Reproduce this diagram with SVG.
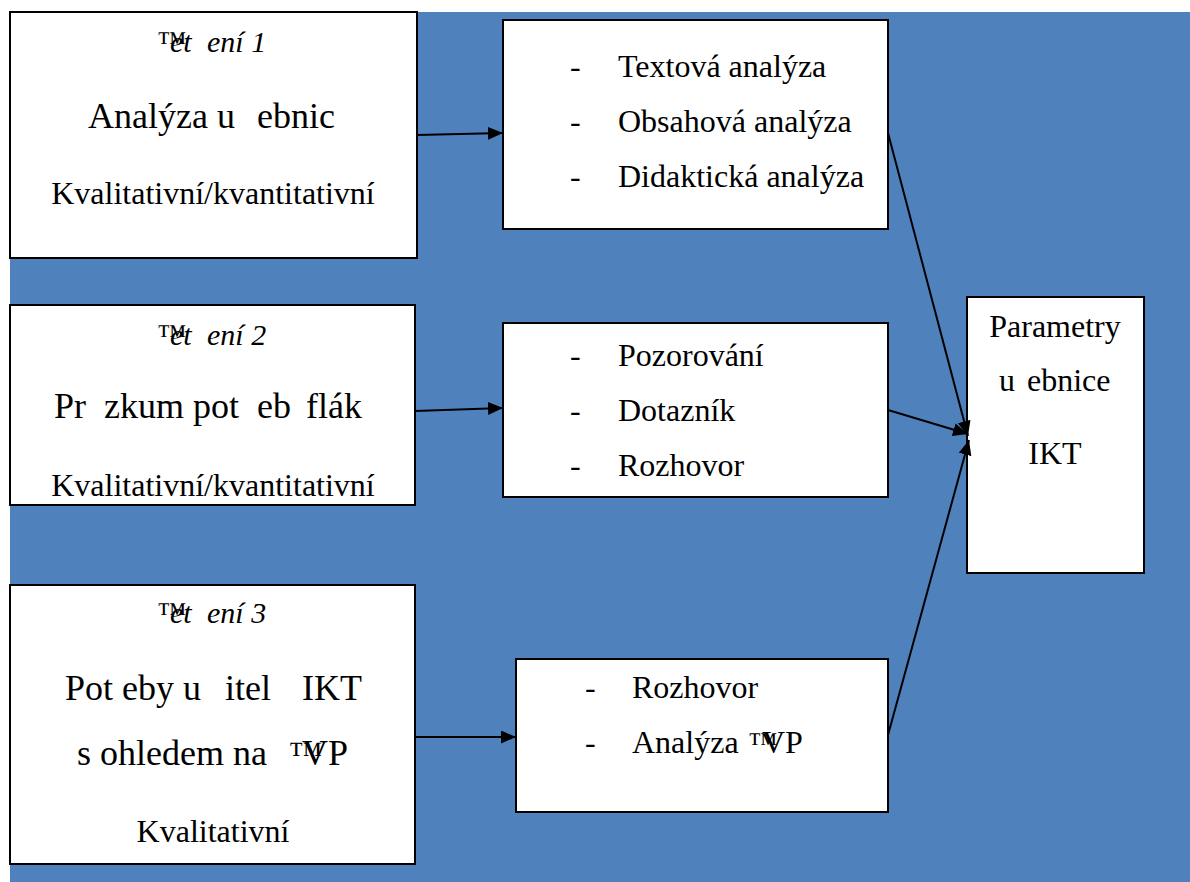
<svg xmlns="http://www.w3.org/2000/svg" width="1190" height="882" viewBox="0 0 1190 882">
  <style>
    .box { fill: #ffffff; stroke: #000000; stroke-width: 2; }
    text { font-family: "Liberation Serif", "Times New Roman", serif; fill: #000000; }
    .s32 { font-size: 32px; }
    .s36 { font-size: 36px; }
    .it { font-size: 30px; font-style: italic; }
    .tm { font-style: normal; }
    .c { text-anchor: middle; }
    .edge { stroke: #000000; stroke-width: 2; fill: none; marker-end: url(#arrow); }
  </style>
  <defs>
    <marker id="arrow" markerUnits="userSpaceOnUse" markerWidth="16" markerHeight="14" refX="15" refY="6.5" orient="auto">
      <path d="M0,0 L15,6.5 L0,13 z" fill="#000000"/>
    </marker>
  </defs>

  <!-- background panel -->
  <rect x="10" y="12" width="1180" height="870" fill="#4F81BD"/>

  <!-- stage 1 -->
  <g id="stage1">
    <rect class="box" x="10" y="12" width="407" height="246"/>
    <text y="52"><tspan class="tm" x="157" font-size="30">™</tspan><tspan class="it" x="170">et</tspan><tspan class="it" x="207">ení 1</tspan></text>
    <text class="s36" y="128"><tspan x="88">Analýza u</tspan><tspan x="257">ebnic</tspan></text>
    <text class="s32 c" x="213" y="204">Kvalitativní/kvantitativní</text>
  </g>

  <!-- stage 2 -->
  <g id="stage2">
    <rect class="box" x="10" y="305" width="405" height="200"/>
    <text y="345"><tspan class="tm" x="157" font-size="30">™</tspan><tspan class="it" x="170">et</tspan><tspan class="it" x="207">ení 2</tspan></text>
    <text class="s36" y="418"><tspan x="54">Pr</tspan><tspan x="104">zkum pot</tspan><tspan x="257">eb</tspan><tspan x="306">flák</tspan></text>
    <text class="s32 c" x="213" y="496">Kvalitativní/kvantitativní</text>
  </g>

  <!-- stage 3 -->
  <g id="stage3">
    <rect class="box" x="10" y="585" width="405" height="279"/>
    <text y="623"><tspan class="tm" x="157" font-size="30">™</tspan><tspan class="it" x="170">et</tspan><tspan class="it" x="207">ení 3</tspan></text>
    <text class="s36" y="700"><tspan x="65">Pot eby u</tspan><tspan x="225">itel</tspan><tspan x="302">IKT</tspan></text>
    <text class="s36" y="765"><tspan x="77">s ohledem na</tspan><tspan class="tm" x="289" font-size="34">™</tspan><tspan x="302">VP</tspan></text>
    <text class="s32 c" x="213" y="842">Kvalitativní</text>
  </g>

  <!-- methods of stage 1 -->
  <g id="methods1">
    <rect class="box" x="503" y="20" width="385" height="209"/>
    <text class="s32" y="77"><tspan x="570">-</tspan><tspan x="618">Textová analýza</tspan></text>
    <text class="s32" y="132"><tspan x="570">-</tspan><tspan x="618">Obsahová analýza</tspan></text>
    <text class="s32" y="187"><tspan x="570">-</tspan><tspan x="618">Didaktická analýza</tspan></text>
  </g>

  <!-- methods of stage 2 -->
  <g id="methods2">
    <rect class="box" x="503" y="323" width="385" height="174"/>
    <text class="s32" y="366"><tspan x="570">-</tspan><tspan x="618">Pozorování</tspan></text>
    <text class="s32" y="421"><tspan x="570">-</tspan><tspan x="618">Dotazník</tspan></text>
    <text class="s32" y="476"><tspan x="570">-</tspan><tspan x="618">Rozhovor</tspan></text>
  </g>

  <!-- methods of stage 3 -->
  <g id="methods3">
    <rect class="box" x="516" y="659" width="372" height="153"/>
    <text class="s32" y="698"><tspan x="585">-</tspan><tspan x="632">Rozhovor</tspan></text>
    <text class="s32" y="753"><tspan x="585">-</tspan><tspan x="632">Analýza</tspan><tspan class="tm" x="748" font-size="30">™</tspan><tspan x="762">VP</tspan></text>
  </g>

  <!-- result -->
  <g id="result">
    <rect class="box" x="967" y="297" width="177" height="276"/>
    <text class="s32 c" x="1055" y="337">Parametry</text>
    <text class="s32" y="391"><tspan x="999">u</tspan><tspan x="1027">ebnice</tspan></text>
    <text class="s32 c" x="1055" y="464">IKT</text>
  </g>

  <!-- connectors -->
  <g id="connectors">
    <line class="edge" x1="417" y1="135" x2="503" y2="133"/>
    <line class="edge" x1="415" y1="411" x2="503" y2="408"/>
    <line class="edge" x1="415" y1="737" x2="516" y2="737"/>
    <line class="edge" x1="888" y1="133" x2="968" y2="436"/>
    <line class="edge" x1="888" y1="410" x2="968" y2="434"/>
    <line class="edge" x1="888" y1="735" x2="969" y2="440"/>
  </g>
</svg>
